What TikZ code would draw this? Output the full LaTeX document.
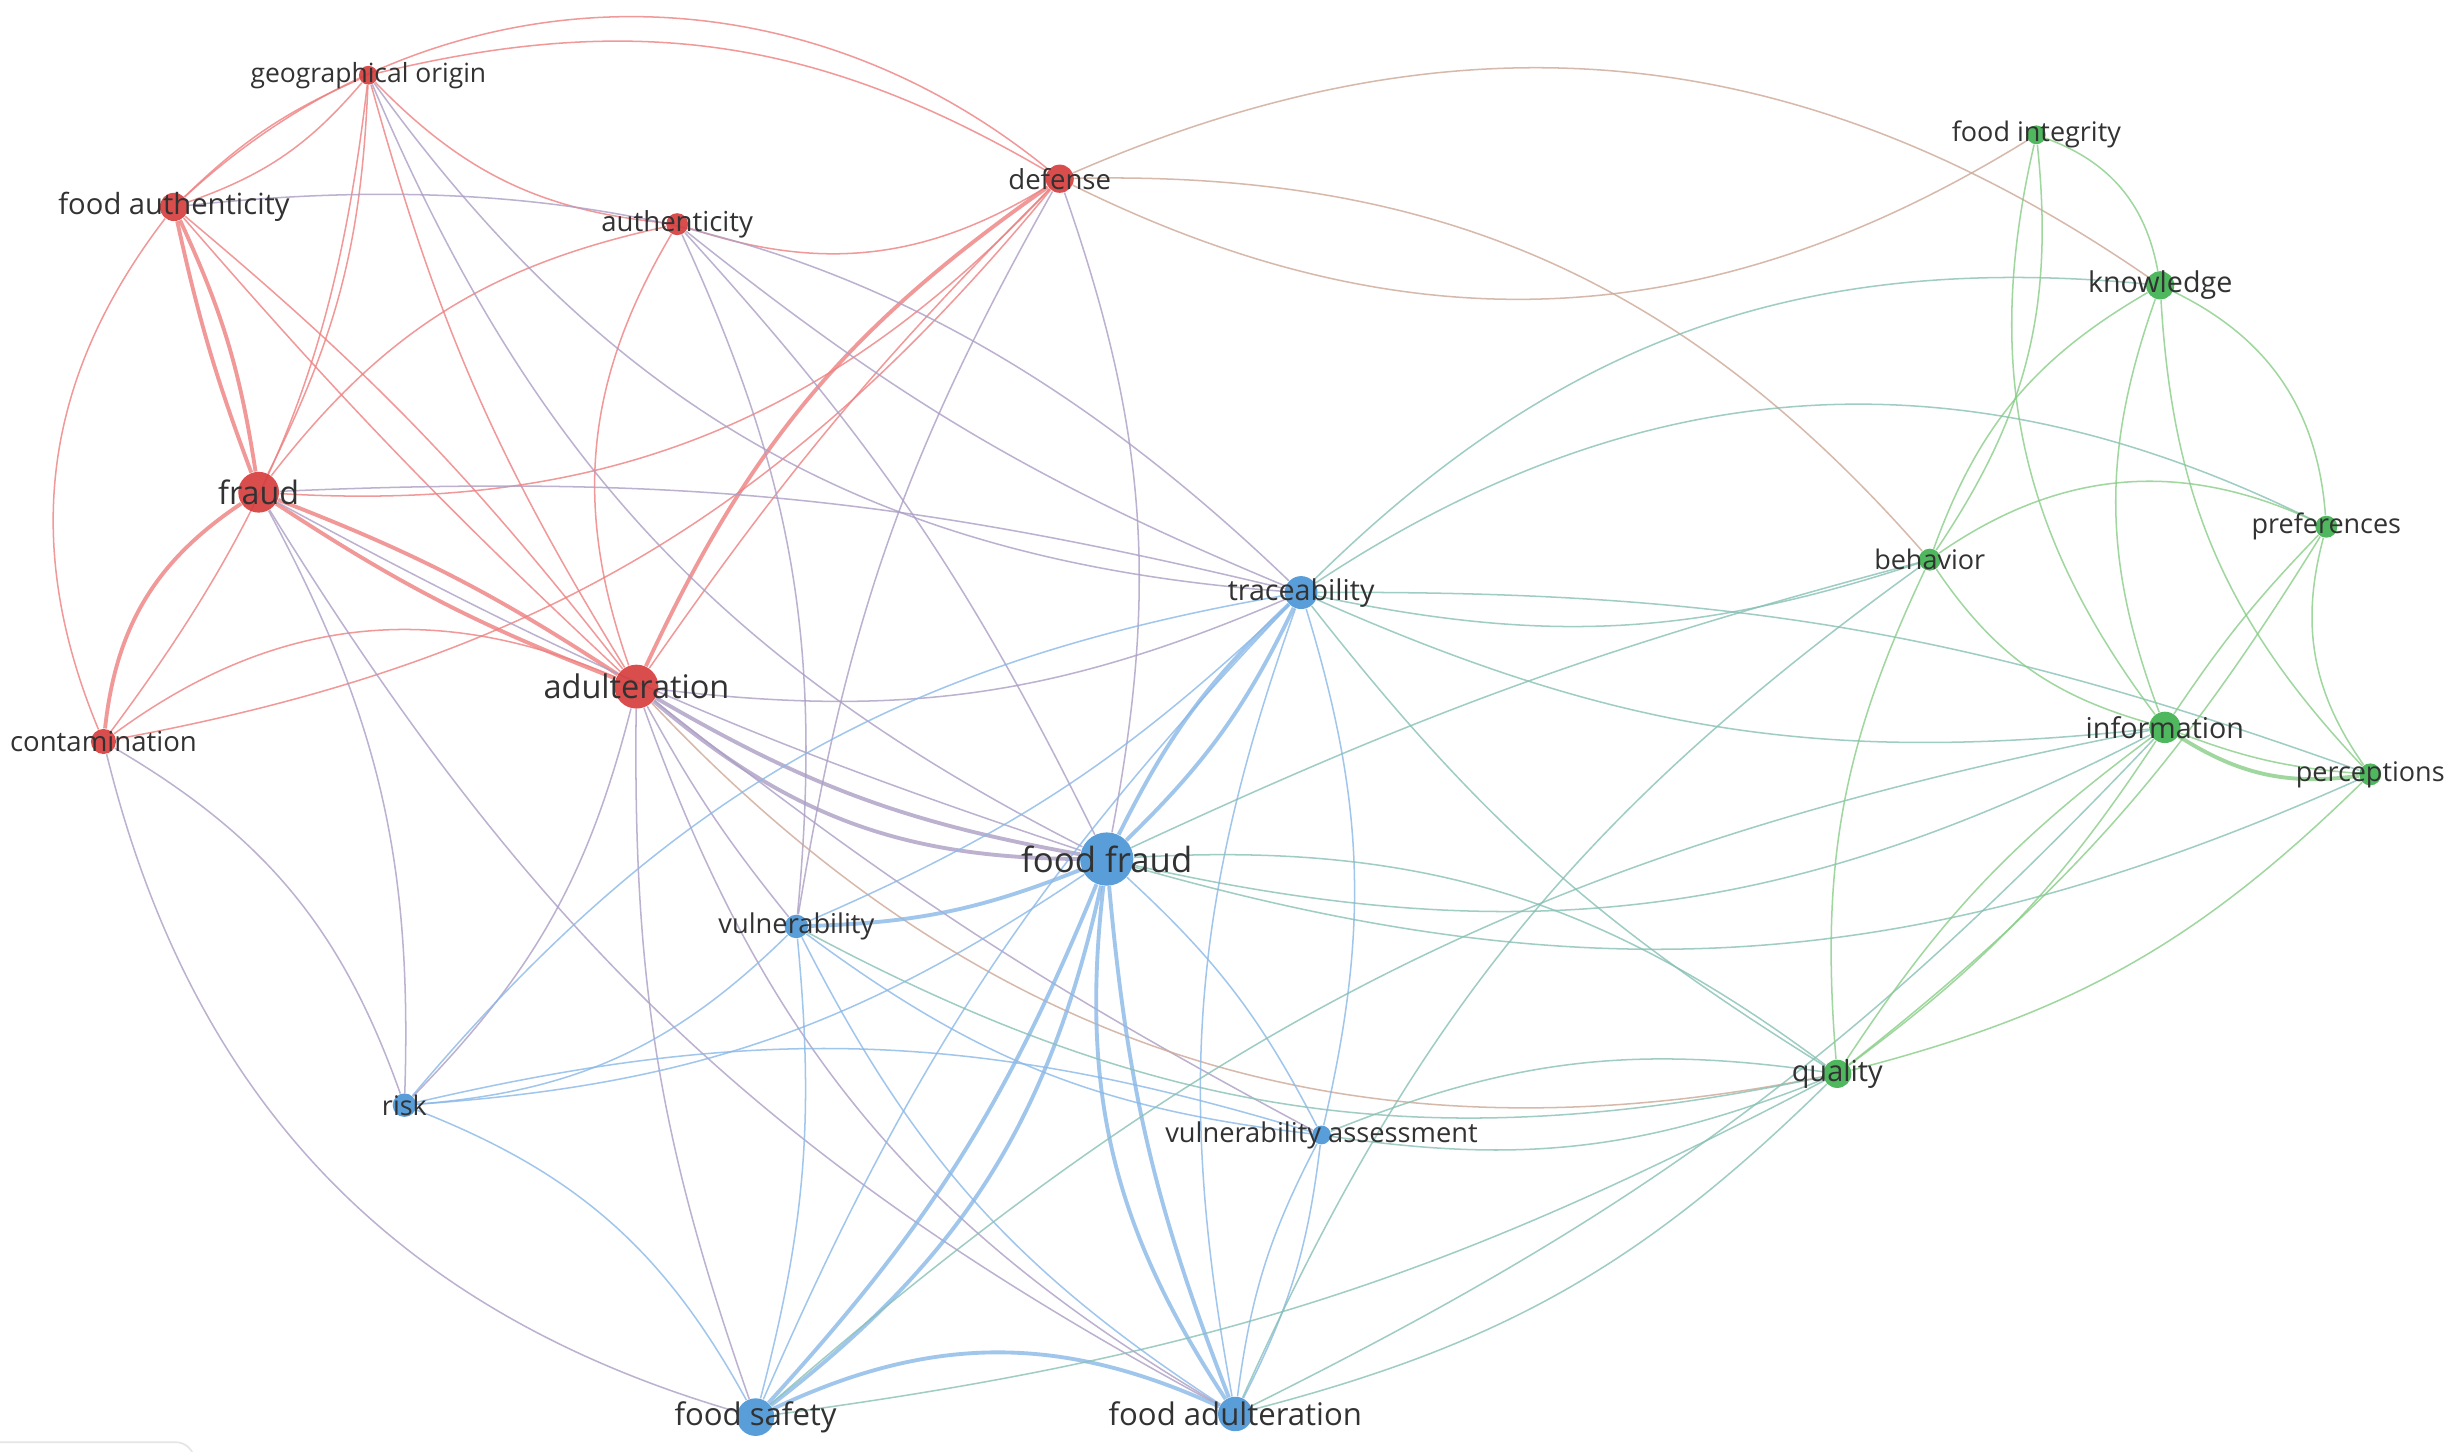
\documentclass[tikz,border=0pt]{standalone}
\usepackage{fontspec}
\setmainfont{Open Sans}
\usetikzlibrary{backgrounds}
\definecolor{vosred}{RGB}{214,58,58}
\definecolor{vosblue}{RGB}{72,148,212}
\definecolor{vosgreen}{RGB}{60,176,76}
\definecolor{lblgray}{RGB}{50,50,50}
\definecolor{rrlink}{RGB}{238,128,128}
\definecolor{bblink}{RGB}{138,184,232}
\definecolor{gglink}{RGB}{135,205,135}
\definecolor{rblink}{RGB}{172,158,196}
\definecolor{bglink}{RGB}{135,192,180}
\definecolor{rglink}{RGB}{205,168,150}
\tikzset{
  dot/.style={circle, inner sep=0, minimum size=#1, fill opacity=0.9},
  rdot/.style={dot=#1, fill=vosred},
  bdot/.style={dot=#1, fill=vosblue},
  gdot/.style={dot=#1, fill=vosgreen},
  lbl/.style={text=lblgray, inner sep=0, font=\fontsize{#1}{#1}\selectfont},
  link/.style={line width=0.55pt, draw opacity=0.8},
  heavy/.style={line width=1.4pt},
  rr/.style={link, draw=rrlink},
  bb/.style={link, draw=bblink},
  gg/.style={link, draw=gglink},
  rb/.style={link, draw=rblink},
  bg/.style={link, draw=bglink},
  rg/.style={link, draw=rglink}
}
\begin{document}
\begin{tikzpicture}[x=0.2mm, y=0.2mm]
  \useasboundingbox (0,0) rectangle (1568,-926);
  % red cluster
  \node[rdot=2.4mm] (go) at (235,-48) {};
  \node[rdot=3.6mm] (fa) at (111,-132) {};
  \node[rdot=3.6mm] (de) at (676,-114) {};
  \node[rdot=2.8mm] (au) at (432,-143) {};
  \node[rdot=5.2mm] (fr) at (165,-314) {};
  \node[rdot=5.6mm] (ad) at (406,-438) {};
  \node[rdot=3.2mm] (co) at (66,-473) {};
  % blue cluster
  \node[bdot=4.2mm] (tr) at (830,-378) {};
  \node[bdot=6.8mm] (ff) at (706,-548) {};
  \node[bdot=3.0mm] (vu) at (508,-591) {};
  \node[bdot=3.0mm] (ri) at (258,-705) {};
  \node[bdot=2.4mm] (va) at (843,-724) {};
  \node[bdot=4.8mm] (fs) at (482,-904) {};
  \node[bdot=4.4mm] (fad) at (788,-902) {};
  % green cluster
  \node[gdot=2.4mm] (fi) at (1299,-86) {};
  \node[gdot=3.6mm] (kn) at (1378,-182) {};
  \node[gdot=2.8mm] (pr) at (1484,-336) {};
  \node[gdot=2.8mm] (be) at (1231,-357) {};
  \node[gdot=4.0mm] (in) at (1381,-464) {};
  \node[gdot=2.8mm] (pe) at (1512,-494) {};
  \node[gdot=3.6mm] (qu) at (1172,-685) {};

  \begin{scope}[on background layer]
    \fill[white] (0,0) rectangle (1568,-926);
    \draw[gray!20, line width=0.6pt] (0,-920) -- (112,-920) arc (90:20:12);
    % red links
    \foreach \a/\b/\t in {fa/de/41, go/de/22, fa/go/-15, fa/go/10, go/fr/12, go/co/15,
        go/au/-20, go/ad/-8, fa/co/-30, fa/ad/-3, fa/ad/6, fr/au/20, fr/de/-25,
        co/ad/30, co/de/-20, au/de/-25, au/ad/-25, de/ad/-5}
      \draw[rr] (\a) to[bend left=\t] (\b);
    \foreach \a/\b/\t in {fa/fr/8, fa/fr/-4, fr/co/-25, fr/ad/6, fr/ad/-6, de/ad/-15}
      \draw[rr, heavy] (\a) to[bend left=\t] (\b);
    % red to blue
    \foreach \a/\b/\t in {fa/tr/25, go/tr/-25, go/ff/-20, fr/tr/8, fr/ff/-5, fr/ri/15,
        fr/fad/-15, co/ri/20, co/fs/-30, au/vu/15, au/ff/8, au/tr/-8, de/ff/15,
        de/vu/-10, ad/tr/-15, ad/vu/-5, ad/fs/-10, ad/fad/-20, ad/ri/15, ad/va/-5}
      \draw[rb] (\a) to[bend left=\t] (\b);
    \foreach \a/\b/\t in {ad/ff/-10, ad/ff/-20}
      \draw[rb, heavy] (\a) to[bend left=\t] (\b);
    % red to green
    \foreach \a/\b/\t in {ad/qu/-29, de/fi/-29, de/kn/29, de/be/25}
      \draw[rg] (\a) to[bend left=\t] (\b);
    % blue links
    \foreach \a/\b/\t in {ff/ri/15, ff/va/10, tr/vu/10, tr/ri/-20, tr/fs/-10,
        tr/fad/-15, tr/va/15, vu/ri/20, vu/fs/10, vu/fad/-15, vu/va/-15, ri/va/15,
        ri/fs/20, fad/va/10, fad/va/-10}
      \draw[bb] (\a) to[bend left=\t] (\b);
    \foreach \a/\b/\t in {ff/tr/10, ff/tr/-10, ff/vu/10, ff/fs/20, ff/fs/10,
        ff/fad/-20, ff/fad/-8, fs/fad/25}
      \draw[bb, heavy] (\a) to[bend left=\t] (\b);
    % blue to green
    \foreach \a/\b/\t in {ff/qu/20, ff/in/-20, ff/pe/-20, ff/be/5, tr/kn/25,
        tr/pr/30, tr/be/-15, tr/in/-15, tr/pe/10, tr/qu/-10, vu/qu/-20, va/qu/15,
        va/qu/-15, fs/in/15, fs/qu/-10, fad/qu/-15, fad/in/-10, be/fad/-15}
      \draw[bg] (\a) to[bend left=\t] (\b);
    % green links
    \foreach \a/\b/\t in {fi/kn/30, fi/be/20, fi/in/-25, kn/be/-20, kn/pr/30,
        kn/in/-20, kn/pe/-20, be/pr/30, be/in/-20, be/qu/-15, pr/in/-5, pr/pe/-25,
        pr/qu/10, in/pe/-8, in/qu/10, in/qu/-10, pe/qu/15}
      \draw[gg] (\a) to[bend left=\t] (\b);
    \draw[gg, heavy] (in) to[bend left=-20] (pe);
  \end{scope}

  % labels
  \node[lbl=9.6] (go-l) at (go) {geographical origin};
  \node[lbl=10.6] (fa-l) at (fa) {food authenticity};
  \node[lbl=10] (de-l) at (de) {defense};
  \node[lbl=10] (au-l) at (au) {authenticity};
  \node[lbl=11.7] (fr-l) at (fr) {fraud};
  \node[lbl=11.8] (ad-l) at (ad) {adulteration};
  \node[lbl=10] (co-l) at (co) {contamination};
  \node[lbl=10.4] (tr-l) at (tr) {traceability};
  \node[lbl=12.6] (ff-l) at (ff) {food fraud};
  \node[lbl=9.9] (vu-l) at (vu) {vulnerability};
  \node[lbl=9.8] (ri-l) at (ri) {risk};
  \node[lbl=9.9] (va-l) at (va) {vulnerability assessment};
  \node[lbl=11.3] (fs-l) at (fs) {food safety};
  \node[lbl=11.3] (fad-l) at (fad) {food adulteration};
  \node[lbl=9.8] (fi-l) at (fi) {food integrity};
  \node[lbl=10.4] (kn-l) at (kn) {knowledge};
  \node[lbl=9.8] (pr-l) at (pr) {preferences};
  \node[lbl=9.8] (be-l) at (be) {behavior};
  \node[lbl=10.4] (in-l) at (in) {information};
  \node[lbl=9.8] (pe-l) at (pe) {perceptions};
  \node[lbl=10.5] (qu-l) at (qu) {quality};
\end{tikzpicture}
\end{document}
